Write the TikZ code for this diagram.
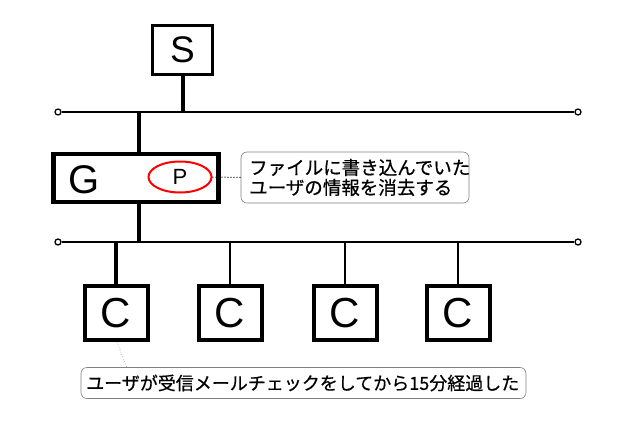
\documentclass[tikz,border=0pt]{standalone}
\usepackage{fontspec}
\setmainfont{Liberation Sans}
\newfontfamily\jp[FakeBold=0.6]{Noto Sans CJK JP}
\usetikzlibrary{shapes.geometric}
\begin{document}
\begin{tikzpicture}[x=1pt,y=-1pt,
  bus/.style={line width=2pt},
  thickline/.style={line width=4pt},
  endpt/.style={circle,draw,line width=1.3pt,fill=white,inner sep=0pt,minimum size=6pt},
  sbox/.style={draw,line width=2.2pt,minimum width=60pt,minimum height=49pt,inner sep=0pt,font=\fontsize{37}{37}\selectfont},
  cbox/.style={draw,line width=4pt,minimum width=63pt,minimum height=54pt,inner sep=0pt,font=\fontsize{42}{42}\selectfont},
  callout/.style={draw=gray,line width=0.6pt,rounded corners=6pt,inner sep=0pt},
  jtext/.style={inner sep=0pt,align=left,font=\jp\fontsize{18.5}{20}\selectfont},
]
\useasboundingbox (0,0) rectangle (634,420);
% top bus
\node[endpt] (tl) at (58,112) {};
\node[endpt] (tr) at (578,112) {};
\draw[bus] (tl) -- (tr);
% S
\node[sbox] (S) at (182.5,50) {S};
\coordinate (sj) at (182.5,112);
\draw[thickline] (S.south) -- (sj);
% G
\node[draw,line width=4.5pt,minimum width=165pt,minimum height=48pt,inner sep=0pt] (G) at (136,178) {};
\node[font=\fontsize{40}{40}\selectfont,inner sep=0pt] (Gt) at (84,180) {G};
\node[ellipse,draw=red,line width=2pt,minimum width=63pt,minimum height=31pt,inner sep=0pt,font=\fontsize{22}{22}\selectfont] (P) at (180,177) {P};
\coordinate (gt) at (138.5,112);
\coordinate (gb) at (138.5,242);
\draw[thickline] (gt) -- (138.5,154);
\draw[thickline] (138.5,202) -- (gb);
% callout 1
\node[callout,minimum width=228pt,minimum height=51pt] (c1) at (355,177.5) {};
\node[jtext,anchor=west] (c1t) at (249,177.5) {ファイルに書き込んでいた\\ユーザの情報を消去する};
\draw[dotted,line width=1pt] (P.east) -- (c1.west);
% bottom bus
\node[endpt] (bl) at (58,242) {};
\node[endpt] (br) at (578,242) {};
\draw[bus] (bl) -- (br);
% C boxes
\node[cbox] (C1) at (116,313) {C};
\node[cbox] (C2) at (230,313) {C};
\node[cbox] (C3) at (345,313) {C};
\node[cbox] (C4) at (458,313) {C};
\coordinate (j1) at (116,242);
\coordinate (j2) at (230,242);
\coordinate (j3) at (345,242);
\coordinate (j4) at (458,242);
\draw[thickline] (j1) -- (C1.north);
\draw[bus] (j2) -- (C2.north);
\draw[bus] (j3) -- (C3.north);
\draw[bus] (j4) -- (C4.north);
% callout 2
\node[callout,minimum width=445pt,minimum height=31pt] (c2) at (303.5,383) {};
\node[jtext,anchor=west,font=\jp\fontsize{18}{20}\selectfont] (c2t) at (86,383) {ユーザが受信メールチェックをしてから15分経過した};
\coordinate (c2p) at (127,367.5);
\draw[dotted,gray,line width=0.6pt] (117,342) -- (c2p);
\end{tikzpicture}
\end{document}
